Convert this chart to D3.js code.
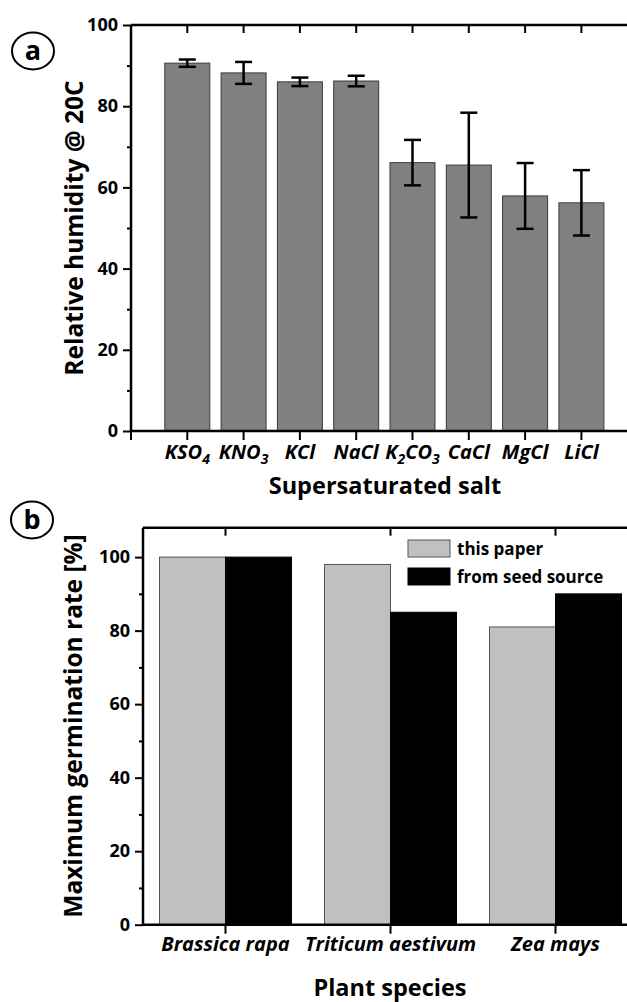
<!DOCTYPE html>
<html><head><meta charset="utf-8">
<script src="https://cdn.jsdelivr.net/npm/d3@7"></script>
<style>
html,body{margin:0;padding:0;background:#fff;}
svg{display:block;font-family:"Open Sans",sans-serif;}
</style></head>
<body>
<svg id="chart" width="627" height="1002"></svg>
<script>
// ---- Data: panel a ----
const salts = ["KSO4","KNO3","KCl","NaCl","K2CO3","CaCl","MgCl","LiCl"];
const humidity = [90.6, 88.2, 86.0, 86.2, 66.1, 65.5, 57.9, 56.2];
const humidityErr = [0.9, 2.7, 1.05, 1.3, 5.6, 12.9, 8.1, 8.05];
const yTicksA = [0, 20, 40, 60, 80, 100];

// ---- Data: panel b ----
const species = ["Brassica rapa","Triticum aestivum","Zea mays"];
const seriesNames = ["this paper","from seed source"];
const thisPaper = [100, 98, 81];
const seedSource = [100, 85, 90];
const yTicksB = [0, 20, 40, 60, 80, 100];

const svg = d3.select("#chart");
const AX = 2.5;

function drawYAxis(g, y, x0, major, minorVals){
  g.append("line").attr("x1",x0).attr("x2",x0).attr("y1",y.range()[0]).attr("y2",y.range()[1])
    .attr("stroke","#000").attr("stroke-width",AX);
  const ax = d3.axisLeft(y).tickValues(major).tickSize(8).tickPadding(5).tickFormat(d3.format("d"));
  const ga = g.append("g").attr("transform",`translate(${x0},0)`).call(ax);
  ga.select(".domain").remove();
  ga.selectAll(".tick line").attr("stroke","#000").attr("stroke-width",2);
  ga.selectAll(".tick text").attr("font-size",18).attr("font-weight","bold").attr("fill","#000")
    .attr("font-family","'Open Sans',sans-serif");
  const am = d3.axisLeft(y).tickValues(minorVals).tickSize(4).tickFormat("");
  const gm = g.append("g").attr("transform",`translate(${x0},0)`).call(am);
  gm.select(".domain").remove();
  gm.selectAll(".tick line").attr("stroke","#000").attr("stroke-width",2);
}

function circleLabel(cx, cy, t){
  svg.append("ellipse").attr("cx",cx).attr("cy",cy).attr("rx",21).attr("ry",18.5)
    .attr("fill","none").attr("stroke","#000").attr("stroke-width",2);
  svg.append("text").attr("x",cx).attr("y",cy+9).attr("text-anchor","middle")
    .attr("font-size",27).attr("font-weight","bold").text(t);
}

// ================= Panel a =================
{
  const y = d3.scaleLinear().domain([0,100]).range([431,25]);
  const x = d3.scaleLinear().domain([0,9]).range([131,637.7]);
  const bw = 45;
  const g = svg.append("g");
  const idx = d3.range(salts.length);

  g.selectAll("rect.bar").data(idx).join("rect").attr("class","bar")
    .attr("x",i=>x(i+1)-bw/2).attr("width",bw)
    .attr("y",i=>y(humidity[i])).attr("height",i=>y(0)-y(humidity[i]))
    .attr("fill","#808080").attr("stroke","#3a3a3a").attr("stroke-width",1);

  const cap = 17;
  idx.forEach(i=>{
    const cx = x(i+1), hi = y(humidity[i]+humidityErr[i]), lo = y(humidity[i]-humidityErr[i]);
    g.append("line").attr("x1",cx).attr("x2",cx).attr("y1",hi).attr("y2",lo).attr("stroke","#000").attr("stroke-width",2.5);
    g.append("line").attr("x1",cx-cap/2).attr("x2",cx+cap/2).attr("y1",hi).attr("y2",hi).attr("stroke","#000").attr("stroke-width",2.5);
    g.append("line").attr("x1",cx-cap/2).attr("x2",cx+cap/2).attr("y1",lo).attr("y2",lo).attr("stroke","#000").attr("stroke-width",2.5);
  });

  g.append("line").attr("x1",x(0)).attr("x2",x(9)).attr("y1",y(0)).attr("y2",y(0)).attr("stroke","#000").attr("stroke-width",AX);
  g.append("line").attr("x1",x(0)).attr("x2",x(9)).attr("y1",y(100)).attr("y2",y(100)).attr("stroke","#000").attr("stroke-width",AX);
  drawYAxis(g, y, x(0), yTicksA, [10,30,50,70,90]);

  [0].concat(idx.map(i=>i+1)).forEach(v=>{
    g.append("line").attr("x1",x(v)).attr("x2",x(v)).attr("y1",y(0)).attr("y2",y(0)+9).attr("stroke","#000").attr("stroke-width",2);
  });
  idx.forEach(i=>{
    g.append("line").attr("x1",x(i+1)).attr("x2",x(i+1)).attr("y1",y(100)).attr("y2",y(100)+8).attr("stroke","#000").attr("stroke-width",2);
  });

  idx.forEach(i=>{
    const t = g.append("text").attr("x",x(i+1)).attr("y",459).attr("text-anchor","middle")
      .attr("font-size",20).attr("font-weight","bold").attr("font-style","italic");
    const parts = salts[i].match(/[A-Za-z]+|\d+/g);
    let sub=false;
    parts.forEach(p=>{
      const isNum = /\d/.test(p);
      const ts = t.append("tspan").text(p);
      if(isNum){ ts.attr("font-size",14).attr("dy",sub?0:5); sub=true; }
      else if(sub){ ts.attr("dy",-5); sub=false; }
    });
  });

  svg.append("text").attr("x",385).attr("y",494).attr("text-anchor","middle")
    .attr("font-size",23.5).attr("font-weight","bold").text("Supersaturated salt");
  svg.append("text").attr("transform","translate(83,228) rotate(-90)").attr("text-anchor","middle")
    .attr("font-size",24.5).attr("font-weight","bold").text("Relative humidity @ 20C");
  circleLabel(33,51,"a");
}

// ================= Panel b =================
{
  const y = d3.scaleLinear().domain([0,108]).range([924.7,527.7]);
  const x = d3.scaleLinear().domain([0.5,3.5]).range([143,638]);
  const bw = 66;
  const g = svg.append("g");
  const idx = d3.range(species.length);
  const colors = ["#c0c0c0","#000000"];
  const vals = [thisPaper, seedSource];

  vals.forEach((arr,s)=>{
    g.selectAll("rect.s"+s).data(idx).join("rect").attr("class","s"+s)
      .attr("x",i=>x(i+1)+(s===0?-bw:0)).attr("width",bw)
      .attr("y",i=>y(arr[i])).attr("height",i=>y(0)-y(arr[i]))
      .attr("fill",colors[s]).attr("stroke",s===0?"#555":"#000").attr("stroke-width",1);
  });

  g.append("line").attr("x1",x(0.5)).attr("x2",x(3.5)).attr("y1",y(0)).attr("y2",y(0)).attr("stroke","#000").attr("stroke-width",AX);
  g.append("line").attr("x1",x(0.5)).attr("x2",x(3.5)).attr("y1",y(108)).attr("y2",y(108)).attr("stroke","#000").attr("stroke-width",AX);
  drawYAxis(g, y, x(0.5), yTicksB, [10,30,50,70,90]);

  idx.forEach(i=>{
    g.append("line").attr("x1",x(i+1)).attr("x2",x(i+1)).attr("y1",y(0)).attr("y2",y(0)+9).attr("stroke","#000").attr("stroke-width",2);
    g.append("line").attr("x1",x(i+1)).attr("x2",x(i+1)).attr("y1",y(108)).attr("y2",y(108)+8).attr("stroke","#000").attr("stroke-width",2);
    g.append("text").attr("x",x(i+1)).attr("y",951).attr("text-anchor","middle")
      .attr("font-size",20).attr("font-weight","bold").attr("font-style","italic").text(species[i]);
  });

  seriesNames.forEach((n,s)=>{
    g.append("rect").attr("x",408).attr("y",540+s*28).attr("width",42).attr("height",17)
      .attr("fill",colors[s]).attr("stroke",s===0?"#555":"#000").attr("stroke-width",1);
    g.append("text").attr("x",457).attr("y",555+s*28).attr("font-size",17).attr("font-weight","bold").text(n);
  });

  svg.append("text").attr("x",390).attr("y",996).attr("text-anchor","middle")
    .attr("font-size",23.5).attr("font-weight","bold").text("Plant species");
  svg.append("text").attr("transform","translate(82,726) rotate(-90)").attr("text-anchor","middle")
    .attr("font-size",24.5).attr("font-weight","bold").text("Maximum germination rate [%]");
  circleLabel(32,520,"b");
}
</script>
</body></html>
